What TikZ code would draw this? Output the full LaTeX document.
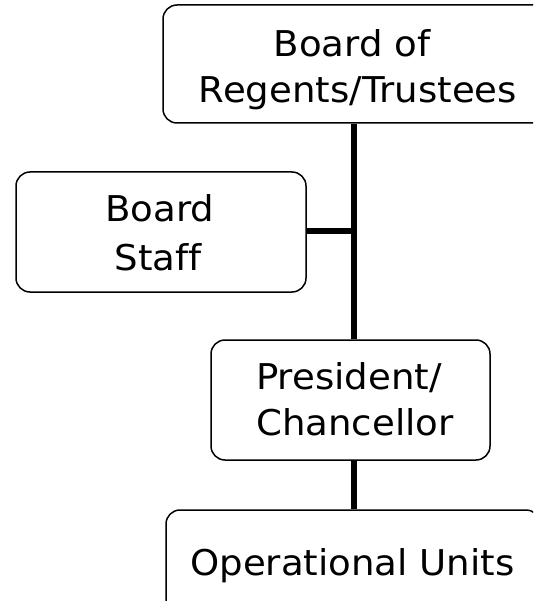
\documentclass[tikz,border=0pt]{standalone}
\usepackage{fontspec}
\setmainfont[Ligatures={NoCommon},FakeStretch=1.045]{DejaVu Sans}
\begin{document}
\begin{tikzpicture}[x=1pt,y=-1pt,
  box/.style={draw=black,line width=1.5pt,rounded corners=14pt,inner sep=0pt},
  lbl/.style={anchor=base,inner sep=0pt,font=\fontsize{35.5}{46}\selectfont},
  conn/.style={line width=6pt,draw=black}]
\useasboundingbox (0,0) rectangle (533,601);
\clip (0,0) rectangle (533,601);
% boxes
\node[box,minimum width=384pt,minimum height=118pt] (top) at (355,64) {};
\node[box,minimum width=290pt,minimum height=120pt] (staff) at (161,232) {};
\node[box,minimum width=279pt,minimum height=120pt] (pres) at (350.5,400) {};
\node[box,minimum width=374pt,minimum height=110pt] (ops) at (353,565) {};
% texts
\node[lbl] (t1) at (352,57) {Board of};
\node[lbl] (t2) at (358,103) {Regents/Trustees};
\node[lbl] (s1) at (160,222) {Board};
\node[lbl] (s2) at (158,270) {Staff};
\node[lbl] (p1) at (349,389) {President/};
\node[lbl] (p2) at (355,435) {Chancellor};
\node[lbl] (o1) at (352.5,575) {Operational Units};
% connectors
\coordinate (j) at (353.5,231);
\draw[conn] (top.south -| j) -- (pres.north -| j);
\draw[conn] (staff.east |- j) -- (j);
\draw[conn] (pres.south -| j) -- (ops.north -| j);
\end{tikzpicture}
\end{document}
